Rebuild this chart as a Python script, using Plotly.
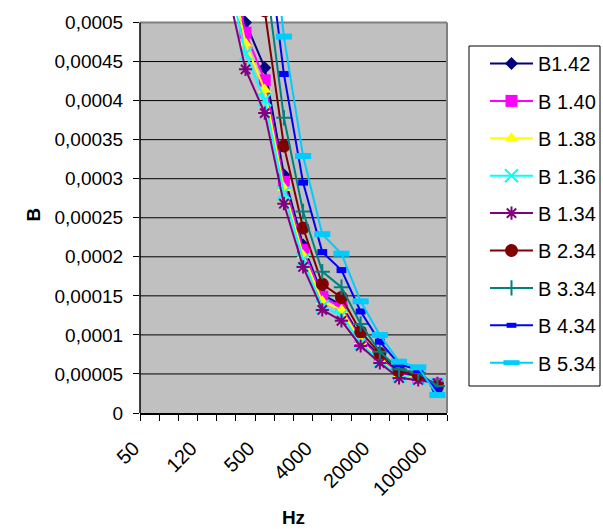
import plotly.graph_objects as go

# ---- data ----
categories = ["50", "60", "100", "120", "200", "400", "500", "1000", "2000",
              "4000", "6000", "10000", "20000", "40000", "60000", "100000"]

series_names = ["B1.42", "B 1.40", "B 1.38", "B 1.36", "B 1.34",
                "B 2.34", "B 3.34", "B 4.34", "B 5.34"]

b142 = [0.0030, 0.0022, 0.0014, 0.0010, 0.00062, 0.0005, 0.000442, 0.000305,
        0.000215, 0.000152, 0.000138, 0.0000973, 0.000073, 0.0000512, 0.0000461, 0.0000375]
b140 = [0.0029, 0.0021, 0.00135, 0.00097, 0.0006, 0.000487, 0.000426, 0.000296,
        0.000209, 0.000149, 0.000135, 0.0000947, 0.0000704, 0.00005, 0.0000448, 0.0000372]
b138 = [0.0028, 0.0020, 0.0013, 0.00094, 0.00059, 0.000473, 0.000414, 0.000288,
        0.000202, 0.000143, 0.000132, 0.0000922, 0.0000679, 0.0000487, 0.0000442, 0.000037]
b136 = [0.0027, 0.0019, 0.00125, 0.0009, 0.00057, 0.00046, 0.000401, 0.000282,
        0.000196, 0.000136, 0.000125, 0.0000896, 0.0000666, 0.0000474, 0.0000435, 0.0000368]
b134 = [0.0026, 0.0018, 0.0012, 0.00086, 0.00055, 0.00044, 0.000384, 0.000268,
        0.000187, 0.000132, 0.000118, 0.0000858, 0.000064, 0.0000448, 0.0000423, 0.000038]
b234 = [0.0040, 0.0030, 0.0020, 0.0014, 0.0010, 0.00075, 0.000515, 0.000342,
        0.000237, 0.000165, 0.000148, 0.000104, 0.0000764, 0.0000542, 0.0000487, 0.0000337]
b334 = [0.0042, 0.0032, 0.0022, 0.0015, 0.0011, 0.0008, 0.00057, 0.000378,
        0.000258, 0.000181, 0.000161, 0.000114, 0.0000785, 0.000056, 0.0000516, 0.0000345]
b434 = [0.0045, 0.0034, 0.0024, 0.0016, 0.0012, 0.0009, 0.00063, 0.000434,
        0.000295, 0.000206, 0.000183, 0.00013, 0.0000913, 0.0000627, 0.000055, 0.0000286]
b534 = [0.0048, 0.0036, 0.0026, 0.0018, 0.0013, 0.001, 0.0007, 0.000482,
        0.000329, 0.000229, 0.000204, 0.000143, 0.0000999, 0.0000657, 0.0000585, 0.000023]

y_tickvals = [0, 0.00005, 0.0001, 0.00015, 0.0002, 0.00025, 0.0003,
              0.00035, 0.0004, 0.00045, 0.0005]
y_ticktext = ["0", "0,00005", "0,0001", "0,00015", "0,0002", "0,00025", "0,0003",
              "0,00035", "0,0004", "0,00045", "0,0005"]
label_step = 3

# ---- styles ----
values = [b142, b140, b138, b136, b134, b234, b334, b434, b534]
colors = ["#000080", "#FF00FF", "#FFFF00", "#00FFFF", "#800080",
          "#800000", "#008080", "#0000FF", "#00CCFF"]
symbols = ["diamond", "square", "triangle-up", "x-thin-open", "asterisk-open",
           "circle", "cross-thin-open", "line-ew-open", "line-ew-open"]
sizes = [10, 12, 12, 13, 11, 13, 11, 7, 11.5]
mlw = [0, 0, 0, 2, 2, 0, 2, 6, 6]

FONT = "Liberation Sans, Arial, sans-serif"
W, H = 603, 529
L, R, T, B = 140, 156, 16, 116
pw, ph = W - L - R, H - T - B
ymax = 0.0005 * ph / 390.5
ytop = y_tickvals[-1]


def px_x(p):
    return (p - L) / pw


def px_y(p):
    return (H - B - p) / ph


x_idx = list(range(len(categories)))

fig = go.Figure()
for i, (name, vals) in enumerate(zip(series_names, values)):
    fig.add_trace(go.Scatter(
        x=x_idx, y=vals, name=name, mode="lines+markers",
        legendgroup=name,
        line=dict(color=colors[i], width=2),
        marker=dict(symbol=symbols[i], size=sizes[i], color=colors[i],
                    line=dict(color=colors[i], width=mlw[i])),
    ))

shapes = [
    dict(type="rect", xref="x domain", yref="y", x0=0, x1=1, y0=0, y1=ytop,
         fillcolor="#C0C0C0", line=dict(width=0), layer="below"),
]
for v in y_tickvals[1:-1]:
    shapes.append(dict(type="line", xref="x domain", yref="y", x0=0, x1=1, y0=v, y1=v,
                       line=dict(color="black", width=1), layer="below"))
shapes += [
    dict(type="line", xref="x domain", yref="y", x0=0, x1=1, y0=ytop, y1=ytop,
         line=dict(color="#808080", width=2), layer="below"),
    dict(type="line", xref="x domain", yref="y", x0=1, x1=1, y0=0, y1=ytop,
         line=dict(color="#808080", width=2), layer="below"),
    dict(type="line", xref="x domain", yref="y", x0=0, x1=0, y0=0, y1=ytop,
         line=dict(color="black", width=1.5), layer="below"),
    dict(type="rect", xref="paper", yref="paper",
         x0=px_x(469), x1=px_x(600), y0=px_y(386), y1=px_y(46),
         line=dict(color="black", width=1), fillcolor="rgba(0,0,0,0)", layer="above"),
]

fig.update_layout(
    width=W, height=H,
    margin=dict(l=L, r=R, t=T, b=B, pad=0, autoexpand=False),
    paper_bgcolor="white",
    plot_bgcolor="rgba(0,0,0,0)",
    font=dict(family=FONT, size=20, color="black"),
    showlegend=True,
    legend=dict(
        x=px_x(485), y=px_y(44), xanchor="left", yanchor="top",
        bgcolor="rgba(0,0,0,0)", borderwidth=0, itemwidth=43,
        font=dict(family=FONT, size=20, color="black"),
        traceorder="grouped", tracegroupgap=8.4,
    ),
    xaxis=dict(
        type="linear", range=[-0.5, len(categories) - 0.5],
        tickmode="array", tickvals=x_idx[::label_step],
        ticktext=categories[::label_step],
        tickangle=-45, ticks="", showgrid=False, zeroline=False,
        showline=True, linecolor="black", linewidth=1.5,
        tickfont=dict(family=FONT, size=20),
        ticklabelshift=-16, ticklabelstandoff=14, automargin=False,
        minor=dict(ticks="outside", ticklen=6, tickcolor="black", tickwidth=1,
                   tickmode="linear", tick0=-0.5, dtick=1, showgrid=False),
        title=dict(text="<b>Hz</b>", font=dict(family=FONT, size=19), standoff=12),
        fixedrange=True,
    ),
    yaxis=dict(
        range=[0, ymax], tickmode="array", tickvals=y_tickvals, ticktext=y_ticktext,
        ticks="outside", ticklen=6, tickcolor="black", tickwidth=1,
        showgrid=False, zeroline=False, showline=False, automargin=False,
        tickfont=dict(family=FONT, size=19), ticklabelstandoff=6,
        title=dict(text="<b>B</b>", font=dict(family=FONT, size=19), standoff=8),
        fixedrange=True,
    ),
    shapes=shapes,
)

fig.write_html("out.html")
